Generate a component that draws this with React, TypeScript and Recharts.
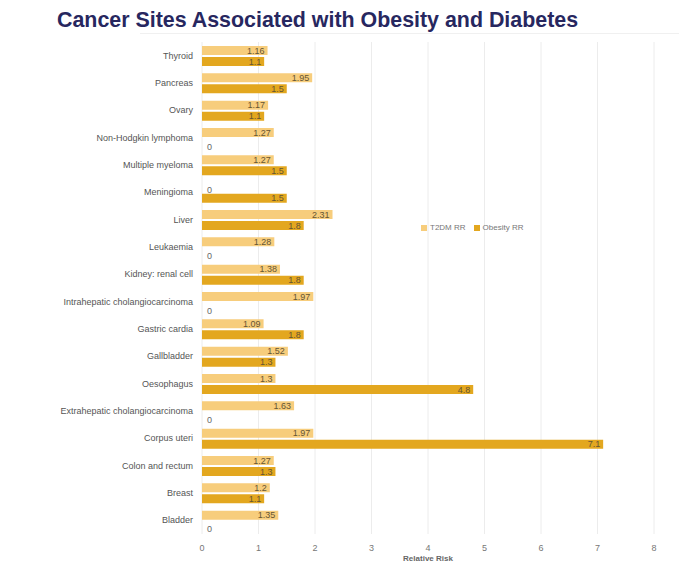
import React from 'react';
import { BarChart, Bar, XAxis, YAxis, CartesianGrid, LabelList } from 'recharts';

const categories = [
  'Thyroid', 'Pancreas', 'Ovary', 'Non-Hodgkin lymphoma', 'Multiple myeloma', 'Meningioma',
  'Liver', 'Leukaemia', 'Kidney: renal cell', 'Intrahepatic cholangiocarcinoma', 'Gastric cardia',
  'Gallbladder', 'Oesophagus', 'Extrahepatic cholangiocarcinoma', 'Corpus uteri', 'Colon and rectum',
  'Breast', 'Bladder',
];
const t2dmRR = [1.16, 1.95, 1.17, 1.27, 1.27, 0, 2.31, 1.28, 1.38, 1.97, 1.09, 1.52, 1.3, 1.63, 1.97, 1.27, 1.2, 1.35];
const obesityRR = [1.1, 1.5, 1.1, 0, 1.5, 1.5, 1.8, 0, 1.8, 0, 1.8, 1.3, 4.8, 0, 7.1, 1.3, 1.1, 0];
const xTicks = [0, 1, 2, 3, 4, 5, 6, 7, 8];
const seriesNames = ['T2DM RR', 'Obesity RR'];
const seriesColors = ['#f7cd7c', '#e3a71f'];

const data = categories.map((name, i) => ({ name, t2dm: t2dmRR[i], obesity: obesityRR[i] }));

const FONT = '"Liberation Sans", Arial, sans-serif';

const renderLabel = (props: any) => {
  const { x, y, width, height, value } = props;
  const cy = y + height / 2;
  if (!value) {
    return (
      <text x={x + 5} y={cy + 3} dy="0.35em" fontSize={9} fill="#666" fontFamily={FONT} textAnchor="start">
        0
      </text>
    );
  }
  return (
    <text x={x + width - 3} y={cy} dy="0.35em" fontSize={9} fill="#665533" fontFamily={FONT} textAnchor="end">
      {value}
    </text>
  );
};

const YTick = (props: any) => {
  const { x, y, payload } = props;
  return (
    <text x={x} y={y} dy="0.35em" textAnchor="end" fontSize={9} fill="#555" fontFamily={FONT}>
      {payload.value}
    </text>
  );
};

export default function App() {
  return (
    <div style={{ position: 'absolute', left: 0, top: 0, width: 679, height: 563, background: '#fff', overflow: 'hidden' }}>
      <div
        style={{
          position: 'absolute', left: 57, top: 8, fontFamily: FONT, fontWeight: 'bold', fontSize: 21.4,
          color: '#27275f', whiteSpace: 'nowrap',
        }}
      >
        Cancer Sites Associated with Obesity and Diabetes
      </div>
      <div style={{ position: 'absolute', left: 140, top: 33, width: 539, borderTop: '1px solid #f0f0f0' }} />
      <div style={{ position: 'absolute', left: 0, top: 0 }}>
        <BarChart
          width={679}
          height={563}
          data={data}
          layout="vertical"
          margin={{ top: 42, right: 25, bottom: 0, left: 7 }}
          barSize={9}
          barGap={2}
        >
          <CartesianGrid horizontal={false} vertical stroke="#ececec" />
          <XAxis
            type="number"
            domain={[0, 8]}
            ticks={xTicks}
            axisLine={false}
            tickLine={false}
            tickMargin={5}
            height={29}
            tick={{ fontSize: 9, fill: '#777', fontFamily: FONT }}
            label={{ value: 'Relative Risk', position: 'insideBottom', offset: 2, fontSize: 8, fontWeight: 'bold', fill: '#666', fontFamily: FONT }}
          />
          <YAxis
            type="category"
            dataKey="name"
            width={195}
            axisLine={false}
            tickLine={false}
            tickMargin={3}
            interval={0}
            tick={<YTick />}
          />
          <Bar dataKey="t2dm" name="T2DM RR" fill={seriesColors[0]} isAnimationActive={false} minPointSize={0.01}>
            <LabelList dataKey="t2dm" content={renderLabel} />
          </Bar>
          <Bar dataKey="obesity" name="Obesity RR" fill={seriesColors[1]} isAnimationActive={false} minPointSize={0.01}>
            <LabelList dataKey="obesity" content={renderLabel} />
          </Bar>
        </BarChart>
      </div>
      <div
        style={{
          position: 'absolute', top: 223, left: 421, display: 'flex', gap: 8, fontSize: 8,
          fontFamily: FONT, color: '#777', alignItems: 'center', whiteSpace: 'nowrap',
        }}
      >
        {seriesNames.map((n, i) => (
          <span key={n} style={{ display: 'flex', alignItems: 'center' }}>
            <span style={{ display: 'inline-block', width: 6, height: 6, background: seriesColors[i], marginRight: 3 }} />
            {n}
          </span>
        ))}
      </div>
    </div>
  );
}
